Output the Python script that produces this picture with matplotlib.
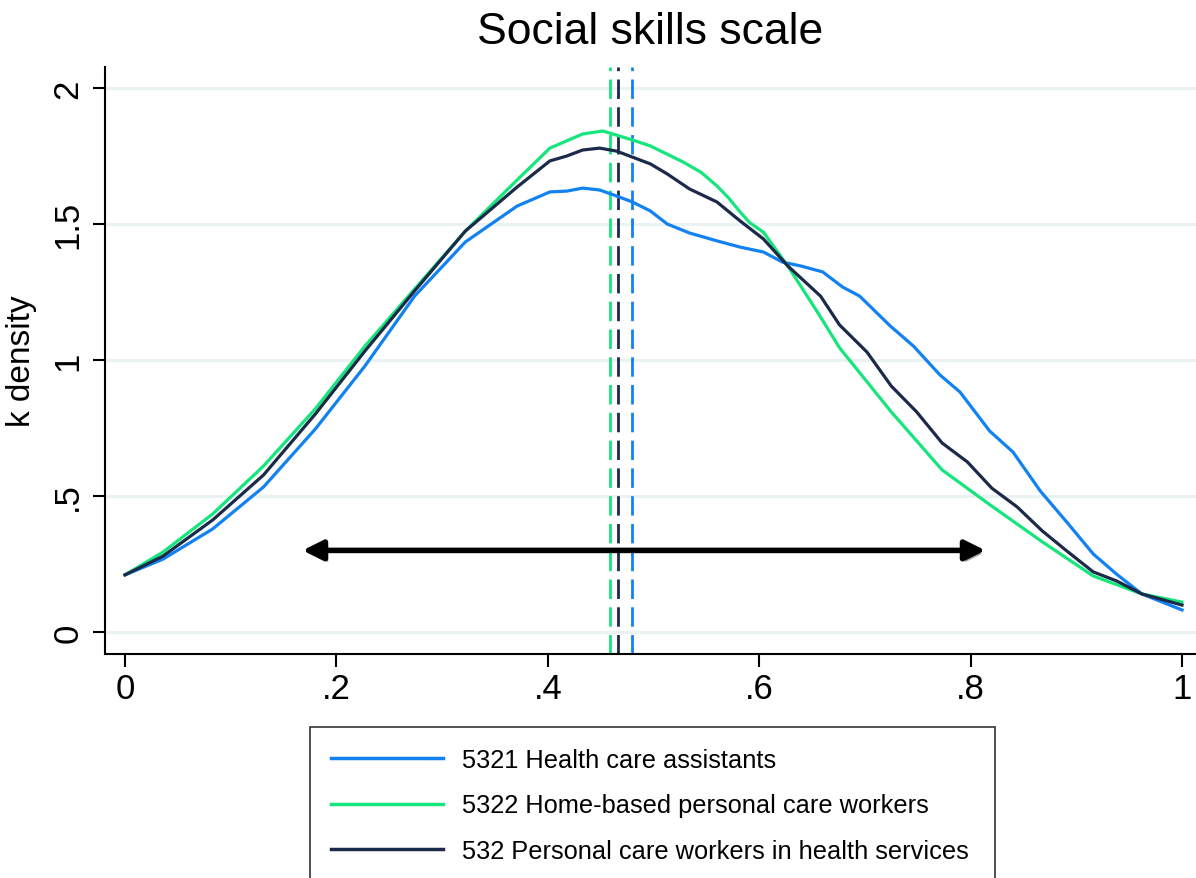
import matplotlib
matplotlib.use("Agg")
from matplotlib import pyplot as plt
from matplotlib import patheffects as pe
from matplotlib.patches import FancyArrowPatch

plt.rcParams['font.family'] = ['Liberation Sans', 'DejaVu Sans']

# kernel density estimates of the social skills scale, per occupation group
x_5321 = [0.000, 0.036, 0.083, 0.131, 0.180, 0.227, 0.274, 0.322, 0.371, 0.402,
          0.418, 0.433, 0.449, 0.465, 0.480, 0.497, 0.513, 0.534, 0.560, 0.582,
          0.604, 0.622, 0.639, 0.660, 0.679, 0.695, 0.724, 0.746, 0.771, 0.790,
          0.818, 0.840, 0.866, 0.891, 0.916, 0.938, 0.962, 1.000]
y_5321 = [0.210, 0.268, 0.379, 0.533, 0.746, 0.978, 1.235, 1.434, 1.566, 1.618,
          1.621, 1.632, 1.625, 1.603, 1.581, 1.548, 1.500, 1.467, 1.438, 1.415,
          1.397, 1.360, 1.346, 1.324, 1.268, 1.235, 1.125, 1.051, 0.945, 0.882,
          0.739, 0.662, 0.518, 0.404, 0.287, 0.213, 0.140, 0.081]

x_5322 = [0.000, 0.036, 0.083, 0.131, 0.180, 0.227, 0.274, 0.322, 0.371, 0.402,
          0.433, 0.452, 0.480, 0.497, 0.528, 0.545, 0.560, 0.571, 0.582, 0.591,
          0.604, 0.627, 0.655, 0.676, 0.725, 0.773, 0.820, 0.868, 0.916, 0.962,
          1.000]
y_5322 = [0.210, 0.294, 0.434, 0.610, 0.820, 1.051, 1.261, 1.474, 1.662, 1.779,
          1.831, 1.842, 1.809, 1.787, 1.728, 1.690, 1.640, 1.596, 1.544, 1.505,
          1.470, 1.346, 1.177, 1.045, 0.809, 0.596, 0.463, 0.331, 0.206, 0.140,
          0.110]

x_532 = [0.000, 0.036, 0.083, 0.131, 0.180, 0.227, 0.274, 0.322, 0.371, 0.402,
         0.418, 0.433, 0.449, 0.465, 0.480, 0.497, 0.513, 0.534, 0.560, 0.582,
         0.604, 0.627, 0.658, 0.676, 0.702, 0.725, 0.749, 0.773, 0.797, 0.820,
         0.844, 0.868, 0.891, 0.916, 0.938, 0.962, 1.000]
y_532 = [0.210, 0.279, 0.412, 0.577, 0.801, 1.033, 1.254, 1.474, 1.636, 1.732,
         1.750, 1.772, 1.779, 1.768, 1.746, 1.721, 1.684, 1.629, 1.581, 1.511,
         1.445, 1.346, 1.235, 1.129, 1.029, 0.904, 0.809, 0.695, 0.625, 0.529,
         0.460, 0.371, 0.298, 0.221, 0.188, 0.140, 0.099]

# group means
mean_5321 = 0.480
mean_5322 = 0.459
mean_532 = 0.466

labels = ["5321 Health care assistants",
          "5322 Home-based personal care workers",
          "532 Personal care workers in health services"]
colors = ["#1282f2", "#14e67c", "#1c2a4a"]

arrow_x = [0.168, 0.814]
arrow_y = 0.30

xticks = [0, 0.2, 0.4, 0.6, 0.8, 1]
xticklabels = ["0", ".2", ".4", ".6", ".8", "1"]
yticks = [0, 0.5, 1, 1.5, 2]
yticklabels = ["0", ".5", "1", "1.5", "2"]

fig = plt.figure(figsize=(11.96, 8.79), dpi=100)
ax = fig.add_axes([105/1196, 1 - 655/879, 1 - 105/1196, (655 - 68)/879])

for yy in yticks:
    ax.axhline(yy, color="#eaf2f3", lw=2.2, zorder=0)

ax.plot(x_5321, y_5321, color=colors[0], lw=2.3, label=labels[0], zorder=3)
ax.plot(x_5322, y_5322, color=colors[1], lw=2.3, label=labels[1], zorder=3)
ax.plot(x_532, y_532, color=colors[2], lw=2.3, label=labels[2], zorder=3)

for m, c in zip([mean_5321, mean_5322, mean_532], colors):
    ax.axvline(m, color=c, lw=2.0, dashes=(7, 3), zorder=2)

arr = FancyArrowPatch((arrow_x[0], arrow_y), (arrow_x[1], arrow_y),
                      arrowstyle="<|-|>,head_length=12,head_width=6",
                      mutation_scale=1, lw=4, color="black",
                      shrinkA=0, shrinkB=0, zorder=4)
arr.set_path_effects([pe.SimplePatchShadow(offset=(2, -2.5), alpha=0.35),
                      pe.Normal()])
ax.add_patch(arr)

ax.set_xlim(-20/1057, 1071/1057)
ax.set_ylim(-22/272, 565/272)

ax.spines["top"].set_visible(False)
ax.spines["right"].set_visible(False)
ax.spines["left"].set_linewidth(1.5)
ax.spines["bottom"].set_linewidth(1.5)

ax.set_xticks(xticks)
ax.set_xticklabels(xticklabels, fontsize=25)
ax.set_yticks(yticks)
ax.set_yticklabels(yticklabels, fontsize=25, rotation=90, va="center")
ax.tick_params(axis="x", length=9, width=1.5, pad=4)
ax.tick_params(axis="y", length=9, width=1.5, pad=6)

ax.set_ylabel("k density", fontsize=24, labelpad=10)
ax.set_title("Social skills scale", fontsize=32, pad=17)

leg = fig.legend(loc="upper left",
                 bbox_to_anchor=(310/1196, 1 - 728/879 - 0.01, 685/1196, 0.01),
                 mode="expand", borderaxespad=0, fontsize=18.3,
                 handlelength=4.4, handletextpad=0.75, borderpad=0.82,
                 labelspacing=0.85, fancybox=False, frameon=True)
leg.get_frame().set_edgecolor("black")
leg.get_frame().set_linewidth(1.2)
for h in leg.get_lines():
    h.set_linewidth(2.5)

fig.savefig("out.png", dpi=100)
